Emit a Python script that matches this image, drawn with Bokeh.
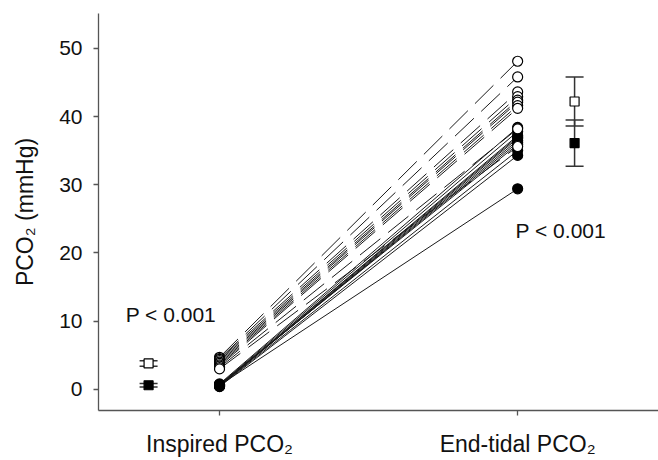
from bokeh.plotting import figure
from bokeh.models import FixedTicker, Label, Whisker, ColumnDataSource, Range1d, TeeHead
from bokeh.embed import file_html
from bokeh.resources import INLINE

# ---- data ----
conditions = ["Inspired PCO\u2082", "End-tidal PCO\u2082"]
cond_x = [1, 2]

hollow_insp = [4.7, 4.5, 4.4, 4.2, 4.0, 3.8, 3.6, 3.4, 3.2, 3.0]
hollow_et = [48.1, 45.8, 43.6, 42.9, 42.4, 42.1, 41.6, 41.2, 38.2, 35.6]
filled_insp = [0.8, 0.7, 0.6, 0.6, 0.5, 0.5, 0.6, 0.7, 0.5, 0.4, 0.6]
filled_et = [38.4, 37.8, 37.2, 37.0, 36.8, 36.5, 36.2, 35.9, 35.0, 34.3, 29.4]

mean_x = [0.762, 2.191]
hollow_mean = [3.8, 42.2]
hollow_sd = [0.4, 3.6]
filled_mean = [0.6, 36.1]
filled_sd = [0.25, 3.4]

y_ticks = [0, 10, 20, 30, 40, 50]
p_text = "P < 0.001"

FONT = "Liberation Sans"

p = figure(width=658, height=460, output_backend="svg", toolbar_location=None,
           x_range=Range1d(0.594, 2.4725), y_range=Range1d(-3.1, 55.1),
           min_border_left=98, min_border_right=0, min_border_top=13, min_border_bottom=50)
p.outline_line_color = None
p.xgrid.visible = False
p.ygrid.visible = False
p.background_fill_color = "white"
p.border_fill_color = "white"

# individual subject lines
for a, b in zip(hollow_insp, hollow_et):
    p.line([cond_x[0], cond_x[1]], [a, b], line_color="#1a1a1a", line_width=1, line_dash="26 10")
for a, b in zip(filled_insp, filled_et):
    p.line([cond_x[0], cond_x[1]], [a, b], line_color="#1a1a1a", line_width=1)

# points
p.scatter([cond_x[0]] * len(filled_insp), filled_insp, size=10, marker="circle",
          fill_color="black", line_color="black", line_width=1.2)
p.scatter([cond_x[1]] * len(filled_et), filled_et, size=10, marker="circle",
          fill_color="black", line_color="black", line_width=1.2)
p.scatter([cond_x[0]] * len(hollow_insp), hollow_insp, size=10, marker="circle",
          fill_color="white", line_color="black", line_width=1.2)
p.scatter([cond_x[1]] * len(hollow_et), hollow_et, size=10, marker="circle",
          fill_color="white", line_color="black", line_width=1.2)

# mean +- SD
hsrc = ColumnDataSource(dict(x=mean_x, y=hollow_mean,
                             lo=[m - s for m, s in zip(hollow_mean, hollow_sd)],
                             hi=[m + s for m, s in zip(hollow_mean, hollow_sd)]))
fsrc = ColumnDataSource(dict(x=mean_x, y=filled_mean,
                             lo=[m - s for m, s in zip(filled_mean, filled_sd)],
                             hi=[m + s for m, s in zip(filled_mean, filled_sd)]))
for src in (hsrc, fsrc):
    w = Whisker(base="x", lower="lo", upper="hi", source=src, dimension="height",
                line_color="#333333", line_width=1.5,
                lower_head=TeeHead(size=18, line_color="#333333", line_width=1.5),
                upper_head=TeeHead(size=18, line_color="#333333", line_width=1.5))
    p.add_layout(w)
p.scatter("x", "y", source=hsrc, marker="square", size=9, fill_color="white",
          line_color="black", line_width=1.2)
p.scatter("x", "y", source=fsrc, marker="square", size=9, fill_color="black",
          line_color="black", line_width=1.2)

# P labels
p.add_layout(Label(x=0.685, y=11.0, text=p_text, text_font=FONT, text_font_size="21px",
                   text_color="#111111", text_baseline="middle", text_align="left"))
p.add_layout(Label(x=1.993, y=23.3, text=p_text, text_font=FONT, text_font_size="21px",
                   text_color="#111111", text_baseline="middle", text_align="left"))

# axes
p.xaxis.ticker = FixedTicker(ticks=cond_x)
p.xaxis.major_label_overrides = {x: lab for x, lab in zip(cond_x, conditions)}
p.yaxis.ticker = FixedTicker(ticks=y_ticks)
for ax in (p.xaxis[0], p.yaxis[0]):
    ax.axis_line_color = "#555555"
    ax.axis_line_width = 1.3
    ax.major_tick_line_color = "#555555"
    ax.major_tick_line_width = 1.3
    ax.major_tick_in = 0
    ax.major_tick_out = 5
    ax.minor_tick_line_color = None
    ax.major_label_text_font = FONT
    ax.major_label_text_color = "#111111"
p.xaxis.major_label_text_font_size = "23px"
p.yaxis.major_label_text_font_size = "21px"
p.xaxis.major_label_standoff = 15
p.yaxis.major_label_standoff = 11
p.yaxis.axis_label = "PCO\u2082 (mmHg)"
p.yaxis.axis_label_text_font = FONT
p.yaxis.axis_label_text_font_size = "23px"
p.yaxis.axis_label_text_font_style = "normal"
p.yaxis.axis_label_text_color = "#111111"
p.yaxis.axis_label_standoff = 18

open("out.html", "w").write(file_html(p, INLINE))
